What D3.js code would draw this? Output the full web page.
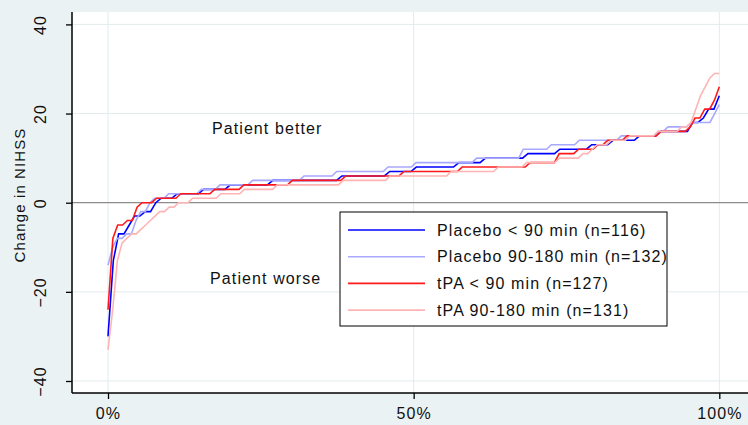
<!DOCTYPE html>
<html>
<head>
<meta charset="utf-8">
<script src="https://cdn.jsdelivr.net/npm/d3@7"></script>
<style>
  body { margin: 0; background: #eaf2f3; }
  svg { display: block; }
  text { letter-spacing: 1.1px; }
</style>
</head>
<body>
<div id="chart"></div>
<script>
// sorted change in NIHSS per group, stored as level + number of patients at that level
const placeboEarlyChange = [-30, -13, -7, -5, -3, -2, 0, 1, 2, 3, 4, 5, 6, 7, 8, 9, 10, 11, 12, 13, 14, 15, 16, 18, 19, 21, 24]
const placeboEarlyCount = [1, 1, 2, 1, 2, 2, 1, 3, 5, 5, 8, 13, 9, 5, 8, 5, 8, 6, 6, 4, 5, 4, 6, 2, 1, 2, 1]

const placeboLateChange = [-14, -10, -8, -7, -4, -2, 0, 1, 2, 3, 4, 5, 6, 7, 8, 9, 10, 12, 13, 14, 15, 16, 17, 18, 20, 22]
const placeboLateCount = [1, 1, 2, 2, 1, 2, 1, 3, 7, 4, 7, 11, 7, 11, 6, 13, 10, 6, 6, 9, 8, 2, 5, 5, 1, 1]

const tpaEarlyChange = [-24, -8, -5, -4, -1, 0, 1, 2, 3, 4, 5, 6, 7, 8, 9, 11, 12, 13, 14, 15, 16, 17, 19, 21, 23, 26]
const tpaEarlyCount = [1, 1, 2, 2, 1, 3, 5, 7, 6, 10, 11, 12, 12, 14, 6, 4, 4, 2, 4, 7, 6, 1, 2, 2, 1, 1]

const tpaLateChange = [-33, -24, -13, -9, -8, -7, -6, -5, -4, -3, -2, -1, 0, 1, 2, 3, 4, 5, 6, 7, 8, 9, 10, 11, 12, 13, 14, 15, 16, 17, 18, 21, 24, 26, 28, 29]
const tpaLateCount = [1, 1, 1, 1, 1, 2, 1, 1, 1, 1, 2, 2, 3, 6, 5, 7, 14, 10, 13, 10, 6, 7, 5, 2, 1, 3, 4, 6, 5, 2, 1, 1, 1, 1, 1, 2]

const seriesLabels = ['Placebo < 90 min (n=116)', 'Placebo 90-180 min (n=132)', 'tPA < 90 min (n=127)', 'tPA 90-180 min (n=131)']
const yTicks = [-40, -20, 0, 20, 40]
const xTicks = [0, 0.5, 1]

const colors = ['#0000ff', '#a8a8ff', '#ff1a1a', '#ffb4b4']

const width = 748
const height = 425
const plot = { left: 72, top: 12, right: 748, bottom: 393 }
const font = 'Liberation Sans, Arial, sans-serif'

const svg = d3
  .select('#chart')
  .append('svg')
  .attr('width', width)
  .attr('height', height)

svg
  .append('rect')
  .attr('width', width)
  .attr('height', height)
  .attr('fill', '#eaf2f3')

svg
  .append('rect')
  .attr('x', plot.left)
  .attr('y', plot.top)
  .attr('width', plot.right - plot.left)
  .attr('height', plot.bottom - plot.top)
  .attr('fill', 'white')

const xPositionScale = d3.scaleLinear().domain([0, 1]).range([108, 719.3])
const yPositionScale = d3.scaleLinear().domain([-40, 40]).range([381, 24.4])

// expand levels into one sorted value per patient
function expand(levels, counts) {
  const values = []
  levels.forEach((v, i) => {
    for (let k = 0; k < counts[i]; k++) values.push(v)
  })
  return values.map((v, i) => ({ p: i / (values.length - 1), change: v }))
}

const series = [
  expand(placeboEarlyChange, placeboEarlyCount),
  expand(placeboLateChange, placeboLateCount),
  expand(tpaEarlyChange, tpaEarlyCount),
  expand(tpaLateChange, tpaLateCount)
]

// grid lines
svg
  .append('g')
  .selectAll('line')
  .data(yTicks.filter(d => d !== 0))
  .enter()
  .append('line')
  .attr('x1', plot.left)
  .attr('x2', plot.right)
  .attr('y1', d => yPositionScale(d))
  .attr('y2', d => yPositionScale(d))
  .attr('stroke', '#e2ebed')
  .attr('stroke-width', 1)

svg
  .append('g')
  .selectAll('line')
  .data(xTicks)
  .enter()
  .append('line')
  .attr('x1', d => xPositionScale(d))
  .attr('x2', d => xPositionScale(d))
  .attr('y1', plot.top)
  .attr('y2', plot.bottom)
  .attr('stroke', '#e2ebed')
  .attr('stroke-width', 1)

// zero line
svg
  .append('line')
  .attr('x1', plot.left)
  .attr('x2', plot.right)
  .attr('y1', yPositionScale(0))
  .attr('y2', yPositionScale(0))
  .attr('stroke', '#8c8c8c')
  .attr('stroke-width', 1.3)

const line = d3
  .line()
  .x(d => xPositionScale(d.p))
  .y(d => yPositionScale(d.change))

svg
  .append('g')
  .selectAll('path')
  .data(series)
  .enter()
  .append('path')
  .attr('d', line)
  .attr('fill', 'none')
  .attr('stroke', (d, i) => colors[i])
  .attr('stroke-width', 1.6)

// annotations
svg
  .append('text')
  .attr('x', xPositionScale(0.17))
  .attr('y', yPositionScale(16.7))
  .attr('dy', '0.35em')
  .attr('font-family', font)
  .attr('font-size', 16)
  .attr('fill', '#111')
  .text('Patient better')

svg
  .append('text')
  .attr('x', xPositionScale(0.167))
  .attr('y', yPositionScale(-17))
  .attr('dy', '0.35em')
  .attr('font-family', font)
  .attr('font-size', 16)
  .attr('fill', '#111')
  .text('Patient worse')

// axes
const yAxis = d3
  .axisLeft(yPositionScale)
  .tickValues(yTicks)
  .tickSize(6)
  .tickFormat(d3.format('d'))

const yAxisG = svg
  .append('g')
  .attr('class', 'axis y-axis')
  .attr('transform', 'translate(' + plot.left + ',0)')
  .call(yAxis)

yAxisG.select('.domain').remove()
yAxisG.selectAll('line').attr('stroke', '#000').attr('stroke-width', 1.3)
yAxisG
  .selectAll('text')
  .attr('transform', 'rotate(-90)')
  .attr('x', 0)
  .attr('y', -26.5)
  .attr('dy', null)
  .attr('text-anchor', 'middle')
  .attr('font-family', font)
  .attr('font-size', 16)
  .attr('fill', '#111')

const xAxis = d3
  .axisBottom(xPositionScale)
  .tickValues(xTicks)
  .tickSize(6)
  .tickFormat(d3.format('.0%'))

const xAxisG = svg
  .append('g')
  .attr('class', 'axis x-axis')
  .attr('transform', 'translate(0,' + plot.bottom + ')')
  .call(xAxis)

xAxisG.select('.domain').remove()
xAxisG.selectAll('line').attr('stroke', '#000').attr('stroke-width', 1.3)
xAxisG
  .selectAll('text')
  .attr('y', 14.5)
  .attr('font-family', font)
  .attr('font-size', 16)
  .attr('fill', '#111')

svg
  .append('line')
  .attr('x1', plot.left)
  .attr('x2', plot.left)
  .attr('y1', plot.top)
  .attr('y2', plot.bottom)
  .attr('stroke', '#000')
  .attr('stroke-width', 1.5)

svg
  .append('line')
  .attr('x1', plot.left)
  .attr('x2', plot.right)
  .attr('y1', plot.bottom)
  .attr('y2', plot.bottom)
  .attr('stroke', '#000')
  .attr('stroke-width', 1.5)

svg
  .append('text')
  .attr('transform', 'translate(24.5,195) rotate(-90)')
  .attr('text-anchor', 'middle')
  .attr('font-family', font)
  .attr('font-size', 15)
  .attr('fill', '#111')
  .text('Change in NIHSS')

// legend
const legend = svg.append('g').attr('transform', 'translate(340,212)')

legend
  .append('rect')
  .attr('width', 327)
  .attr('height', 114)
  .attr('fill', 'white')
  .attr('stroke', '#000')
  .attr('stroke-width', 1)

const rows = legend
  .selectAll('.row')
  .data(seriesLabels)
  .enter()
  .append('g')
  .attr('class', 'row')
  .attr('transform', (d, i) => 'translate(0,' + (18 + i * 26.7) + ')')

rows
  .append('line')
  .attr('x1', 8)
  .attr('x2', 85)
  .attr('stroke', (d, i) => colors[i])
  .attr('stroke-width', 1.6)

rows
  .append('text')
  .attr('x', 97)
  .attr('dy', '0.35em')
  .attr('font-family', font)
  .attr('font-size', 16)
  .attr('fill', '#111')
  .text(d => d)
</script>
</body>
</html>
